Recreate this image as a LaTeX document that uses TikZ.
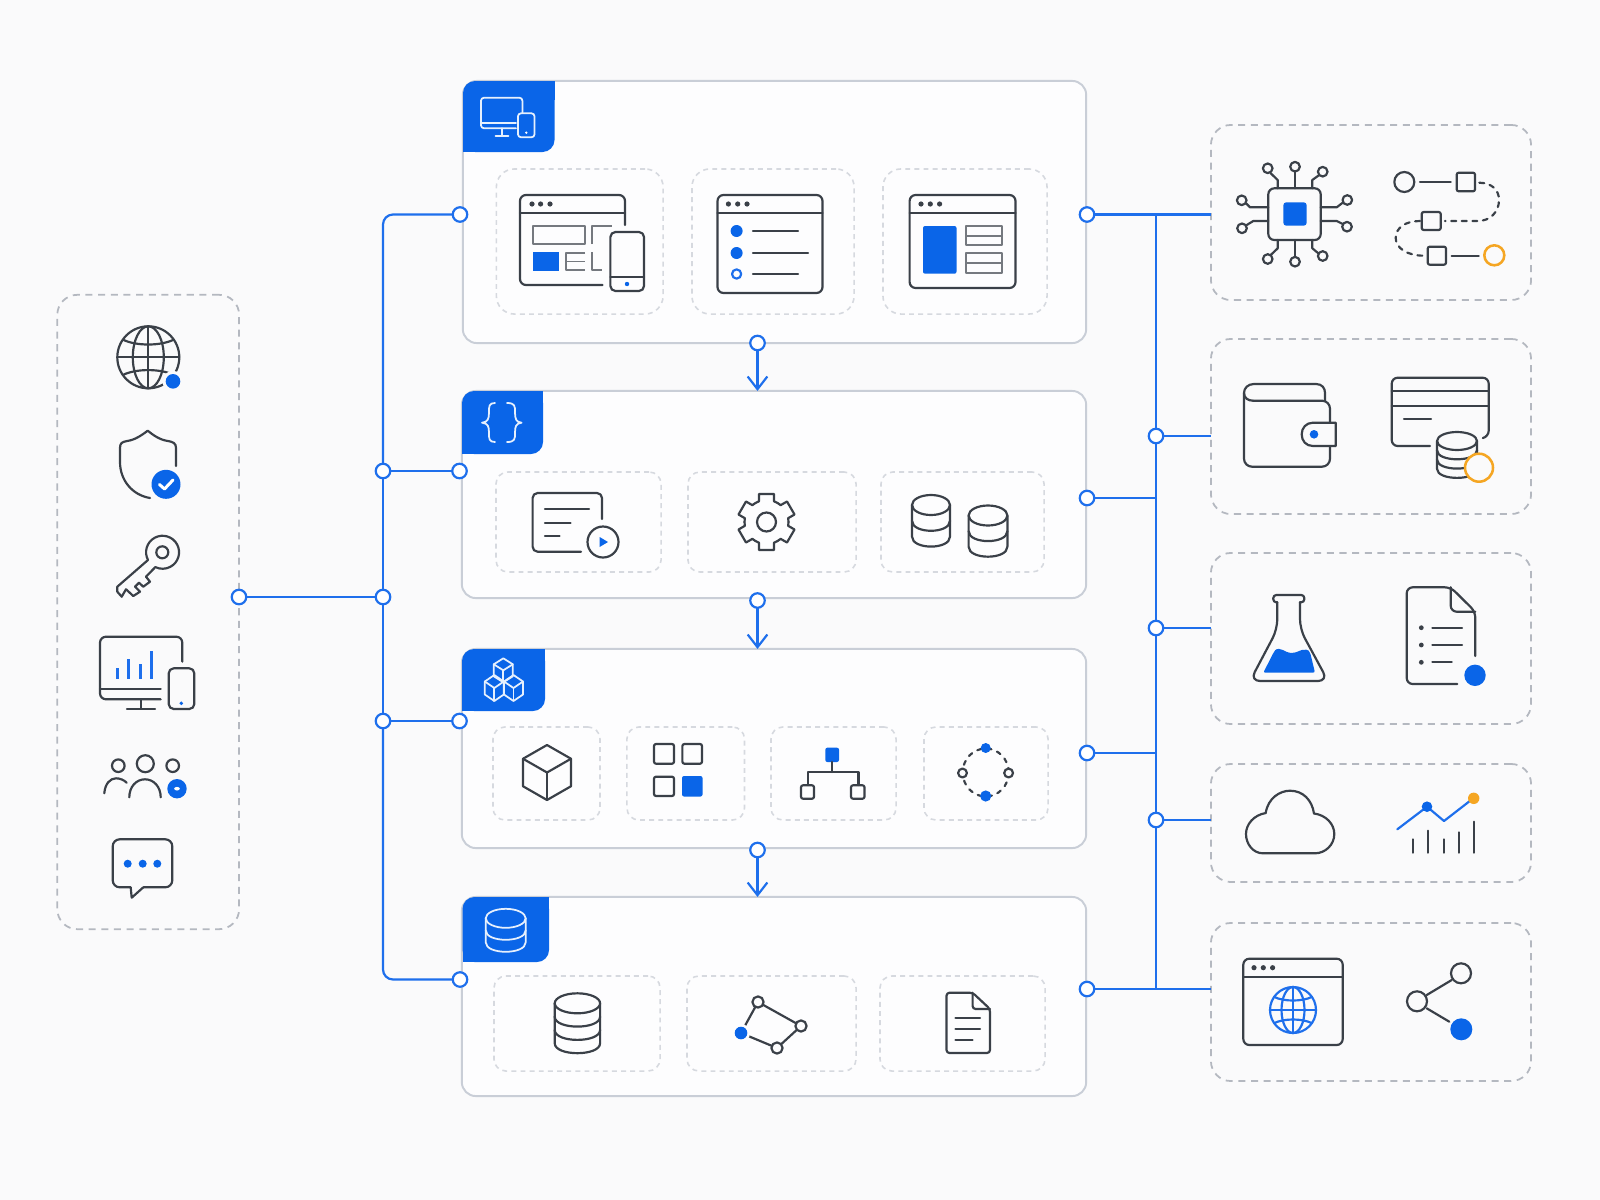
\documentclass[tikz,border=0pt]{standalone}
\usetikzlibrary{arrows.meta,calc}
\definecolor{pagefill}{HTML}{FAFAFB}
\definecolor{panelfill}{HTML}{FDFDFE}
\definecolor{panelline}{HTML}{C9CED7}
\definecolor{dashouter}{HTML}{B4B8C0}
\definecolor{dashinner}{HTML}{D6D9DF}
\definecolor{brand}{HTML}{0A65E8}
\definecolor{linkblue}{HTML}{1E6FEC}
\definecolor{ink}{HTML}{3A4048}
\definecolor{amber}{HTML}{F5A623}
\tikzset{
    panel/.style={draw=panelline, fill=panelfill, line width=0.55pt,
                  rounded corners=0.14cm, inner sep=0pt, outer sep=0pt},
    outerbox/.style={draw=dashouter, line width=0.5pt, rounded corners=0.2cm,
                     dash pattern=on 2pt off 1.6pt, inner sep=0pt, outer sep=0pt},
    innerbox/.style={draw=dashinner, line width=0.45pt, rounded corners=0.12cm,
                     dash pattern=on 1.4pt off 1.2pt, inner sep=0pt, outer sep=0pt},
    port/.style={circle, draw=linkblue, fill=white, line width=0.62pt,
                 inner sep=0pt, minimum size=0.145cm, outer sep=0pt},
    link/.style={draw=linkblue, line width=0.62pt},
    drop/.style={link, -{Straight Barb[length=3.6pt, width=5.6pt, line width=0.62pt]}},
    tabshape/.style={fill=brand, rounded corners=0.12cm},
    icon/.style={draw=ink, line width=0.62pt, line cap=round, line join=round},
    thinicon/.style={draw=ink!70, line width=0.45pt, line join=round},
    whiteicon/.style={draw=white!90!brand, line width=0.5pt, line cap=round, line join=round},
    blueicon/.style={draw=linkblue, line width=0.62pt, line cap=round, line join=round},
    spot/.style={fill=brand},
    hollow/.style={icon, fill=panelfill},
    ambericon/.style={draw=amber, line width=0.72pt},
    halo/.style={fill=pagefill},
}
\newcommand{\dbicon}[7]{%
    \draw[#1] (#2,#3) circle[x radius=#4, y radius=#5];
    \foreach \i in {1,...,#7}
        \draw[#1] ({#2-#4},{#3+(\i-1)*#6}) -- ({#2-#4},{#3+\i*#6})
            .. controls ({#2-#4},{#3+\i*#6+1.33*#5}) and ({#2+#4},{#3+\i*#6+1.33*#5})
            .. ({#2+#4},{#3+\i*#6}) -- ({#2+#4},{#3+(\i-1)*#6});
}
\newcommand{\cubeicon}[5]{%
    \draw[#1] (#2,#3) -- ({#2+#4},{#3+#5/4}) -- ({#2+#4},{#3+3*#5/4}) -- (#2,{#3+#5})
        -- ({#2-#4},{#3+3*#5/4}) -- ({#2-#4},{#3+#5/4}) -- cycle;
    \draw[#1] ({#2-#4},{#3+#5/4}) -- (#2,{#3+#5/2}) -- ({#2+#4},{#3+#5/4});
    \draw[#1] (#2,{#3+#5/2}) -- (#2,{#3+#5});
}
\newcommand{\globeicon}[4]{%
    \draw[#1] (#2,#3) circle[radius=#4];
    \draw[#1] (#2,#3) circle[x radius={0.5*#4}, y radius=#4];
    \draw[#1] (#2,{#3-#4}) -- (#2,{#3+#4});
    \draw[#1] ({#2-#4},#3) -- ({#2+#4},#3);
    \draw[#1] ({#2-0.82*#4},{#3-0.57*#4}) .. controls ({#2-0.4*#4},{#3-0.36*#4}) and ({#2+0.4*#4},{#3-0.36*#4}) .. ({#2+0.82*#4},{#3-0.57*#4});
    \draw[#1] ({#2-0.82*#4},{#3+0.57*#4}) .. controls ({#2-0.4*#4},{#3+0.36*#4}) and ({#2+0.4*#4},{#3+0.36*#4}) .. ({#2+0.82*#4},{#3+0.57*#4});
}
\newcommand{\windowicon}[5]{%
    \draw[icon, rounded corners=0.06cm] (#1,#2) rectangle (#3,#4);
    \draw[icon] (#1,{#2+18}) -- (#3,{#2+18});
    \foreach \k in {0,1,2}
        \fill[ink] ({#5+\k*9.3},{#2+9}) circle[radius=2.6];
}

\begin{document}
\begin{tikzpicture}[x=0.01cm, y=-0.01cm]
    \path[use as bounding box, fill=pagefill] (0,0) rectangle (1600,1200);

    \node[outerbox, minimum width=1.817cm, minimum height=6.34cm] (clients) at (148.2,612) {};

    \node[panel, minimum width=6.23cm, minimum height=2.62cm] (front) at (774.5,212) {};
    \node[panel, minimum width=6.24cm, minimum height=2.07cm] (logic) at (774,494.5) {};
    \node[panel, minimum width=6.24cm, minimum height=1.99cm] (parts) at (774,748.5) {};
    \node[panel, minimum width=6.24cm, minimum height=1.99cm] (store) at (774,996.5) {};

    \fill[tabshape] (463,152) -- (463,81) -- (554.5,81) -- (554.5,152) -- cycle;
    \fill[brand] (463,130) rectangle (480,152);
    \fill[brand] (530,81) rectangle (554.5,100);
    \fill[tabshape] (462,454) -- (462,391) -- (543,391) -- (543,454) -- cycle;
    \fill[brand] (462,435) rectangle (480,454);
    \fill[brand] (520,391) rectangle (543,410);
    \fill[tabshape] (462,711) -- (462,649) -- (545,649) -- (545,711) -- cycle;
    \fill[brand] (462,690) rectangle (480,711);
    \fill[brand] (520,649) rectangle (545,670);
    \fill[tabshape] (462.5,962) -- (462.5,897) -- (549,897) -- (549,962) -- cycle;
    \fill[brand] (462.5,940) rectangle (480,962);
    \fill[brand] (525,897) rectangle (549,920);

    \foreach \nm/\cx/\w in {fa/579.7/1.666, fb/773/1.62, fc/965/1.64}
        \node[innerbox, rounded corners=0.18cm, minimum width=\w cm, minimum height=1.45cm] (\nm) at (\cx,241.5) {};
    \foreach \nm/\cx/\w in {la/578.5/1.65, lb/772/1.68, lc/962.5/1.63}
        \node[innerbox, minimum width=\w cm, minimum height=1cm] (\nm) at (\cx,522) {};
    \foreach \nm/\cx/\w in {pa/546.5/1.07, pb/685.7/1.175, pc/833.5/1.25, pd/986/1.24}
        \node[innerbox, minimum width=\w cm, minimum height=0.93cm] (\nm) at (\cx,773.5) {};
    \foreach \nm/\cx/\w in {sa/577/1.66, sb/771.5/1.69, sc/962.5/1.65}
        \node[innerbox, minimum width=\w cm, minimum height=0.95cm] (\nm) at (\cx,1023.5) {};

    \node[outerbox, minimum width=3.2cm, minimum height=1.75cm] (compute) at (1371,212.5) {};
    \node[outerbox, minimum width=3.2cm, minimum height=1.75cm] (billing) at (1371,426.5) {};
    \node[outerbox, minimum width=3.2cm, minimum height=1.71cm] (testing) at (1371,638.5) {};
    \node[outerbox, minimum width=3.2cm, minimum height=1.18cm] (cloud) at (1371,823) {};
    \node[outerbox, minimum width=3.2cm, minimum height=1.58cm] (partner) at (1371,1002) {};

    \node[port] (out) at (239,597) {};
    \node[port] (ljb) at (383,471) {};
    \node[port] (ljm) at (383,597) {};
    \node[port] (ljd) at (383,721) {};
    \node[port] (wf) at (460,214.5) {};
    \node[port] (wl) at (459.5,471) {};
    \node[port] (wp) at (459.5,721) {};
    \node[port] (ws) at (460,979.5) {};
    \node[port] (ef) at (1087,214.5) {};
    \node[port] (el) at (1087,498) {};
    \node[port] (ep) at (1087,753) {};
    \node[port] (es) at (1087,989) {};
    \node[port] (rjb) at (1156,436) {};
    \node[port] (rjt) at (1156,628) {};
    \node[port] (rjc) at (1156,820) {};
    \node[port] (df) at (757.5,343) {};
    \node[port] (dl) at (757.5,600.5) {};
    \node[port] (dp) at (757.5,850) {};
    \coordinate (rtop) at (1156,214.5);
    \coordinate (rbot) at (1156,989);

    \draw[link] (out) -- (ljm);
    \draw[link, rounded corners=0.1cm] (wf) -| (ljb);
    \draw[link] (ljb) -- (ljm);
    \draw[link] (ljm) -- (ljd);
    \draw[link, rounded corners=0.1cm] (ljd) |- (ws);
    \draw[link] (ljb) -- (wl);
    \draw[link] (ljd) -- (wp);

    \draw[link] (ef) -- (ef -| compute.west);
    \draw[link] (es) -- (es -| partner.west);
    \draw[link] (rtop) -- (rjb);
    \draw[link] (rjb) -- (rjt);
    \draw[link] (rjt) -- (rjc);
    \draw[link] (rjc) -- (rbot);
    \draw[link] (el) -- (el -| rjb);
    \draw[link] (ep) -- (ep -| rjb);
    \draw[link] (rjb) -- (rjb -| billing.west);
    \draw[link] (rjt) -- (rjt -| testing.west);
    \draw[link] (rjc) -- (rjc -| cloud.west);

    \draw[drop] (df) -- (df |- logic.north);
    \draw[drop] (dl) -- (dl |- parts.north);
    \draw[drop] (dp) -- (dp |- store.north);

    \draw[whiteicon, rounded corners=0.03cm] (516,128.3) -- (481,128.3) -- (481,97.7) -- (522.4,97.7) -- (522.4,112.7);
    \draw[whiteicon] (481,122.7) -- (516,122.7);
    \draw[whiteicon] (502,128.3) -- (502,136);
    \draw[whiteicon] (495.5,136) -- (508.5,136);
    \draw[whiteicon, rounded corners=0.03cm] (518,113.3) rectangle (534.5,137.3);
    \fill[white] (526.3,132.7) circle[radius=1.3];

    \draw[whiteicon] (495,403) .. controls (489,403) and (489,406) .. (489,412) .. controls (489,419) and (488,422) .. (482,422.7)
        .. controls (488,423.5) and (489,426) .. (489,433) .. controls (489,439) and (489,442) .. (495,442);
    \draw[whiteicon] (507,403) .. controls (515,403) and (515,406) .. (515,412) .. controls (515,419) and (516,422) .. (521.6,422.7)
        .. controls (516,423.5) and (515,426) .. (515,433) .. controls (515,439) and (515,442) .. (507,442);

    \cubeicon{whiteicon}{503.3}{658.3}{9.5}{24}
    \cubeicon{whiteicon}{494.3}{675}{9.5}{26}
    \cubeicon{whiteicon}{513.5}{675}{9.5}{26}

    \dbicon{whiteicon}{505.7}{918.3}{20}{9.5}{12}{2}
    \draw[icon, rounded corners=0.06cm] (602.6,285) -- (520,285) -- (520,195) -- (625,195) -- (625,225);
    \draw[icon] (520,213) -- (625,213);
    \foreach \k in {532,540.6,550}
        \fill[ink] (\k,204) circle[radius=2.6];
    \draw[thinicon] (533,226) rectangle (585,244);
    \draw[thinicon] (592,244) -- (592,226) -- (612,226);
    \fill[spot] (533,252) rectangle (559,271);
    \draw[thinicon] (585,253) -- (566,253) -- (566,270) -- (585,270);
    \draw[thinicon] (566,261.5) -- (585,261.5);
    \draw[thinicon] (592,252) -- (592,270) -- (602,270);
    \draw[hollow, rounded corners=0.05cm] (610.4,232) rectangle (644,291);
    \draw[icon] (610.4,277) -- (644,277);
    \fill[spot] (627,284) circle[radius=2.2];

    \windowicon{717.5}{195}{822.5}{293}{728.4}
    \fill[spot] (736.6,231) circle[radius=6];
    \fill[spot] (736.6,253) circle[radius=6];
    \draw[blueicon] (736.6,274) circle[radius=4.6];
    \draw[icon] (753,231) -- (798,231);
    \draw[icon] (753,253) -- (808,253);
    \draw[icon] (753,274) -- (798,274);

    \windowicon{909.6}{195}{1015.5}{288}{921}
    \fill[spot, rounded corners=0.02cm] (923,226) rectangle (956.5,273.7);
    \draw[thinicon] (966,226) rectangle (1002,245);
    \draw[thinicon] (966,236) -- (1002,236);
    \draw[thinicon] (966,253) rectangle (1002,273);
    \draw[thinicon] (966,263) -- (1002,263);

    \draw[icon, rounded corners=0.05cm] (581,551.7) -- (532.6,551.7) -- (532.6,493) -- (602,493) -- (602,519);
    \draw[icon] (545,509) -- (589,509);
    \draw[icon] (545,523) -- (570.6,523);
    \draw[icon] (545,535.7) -- (559.6,535.7);
    \draw[icon] (603,542) circle[radius=15.5];
    \fill[spot] (599.6,537) -- (608,542) -- (599.6,547) -- cycle;

    \begin{scope}[shift={(766.5,522)}]
        \foreach \a in {90,150,...,390}
            \draw[icon] ({\a-30}:22) -- ({\a-20}:22) -- ({\a-15}:29) -- ({\a+15}:29) -- ({\a+20}:22) -- ({\a+30}:22);
        \draw[icon] (0,0) circle[radius=9.5];
    \end{scope}

    \dbicon{icon}{931}{505}{19}{10}{15.8}{2}
    \dbicon{icon}{988}{515.5}{19.4}{10}{15.6}{2}

    \cubeicon{icon}{547}{745}{24}{55}

    \draw[icon, rounded corners=0.02cm] (654,744) rectangle (674,763.7);
    \draw[icon, rounded corners=0.02cm] (682.4,744) rectangle (702,763.7);
    \draw[icon, rounded corners=0.02cm] (654,776.7) rectangle (674,796);
    \fill[spot, rounded corners=0.02cm] (682,776) rectangle (702.5,796.5);

    \fill[spot, rounded corners=0.02cm] (825.3,747.7) rectangle (839,762);
    \draw[icon] (832,762) -- (832,772);
    \draw[icon] (807.8,785) -- (807.8,772) -- (858.4,772) -- (858.4,785);
    \draw[icon, rounded corners=0.02cm] (801,785.3) rectangle (814,798.7);
    \draw[icon, rounded corners=0.02cm] (851,785.3) rectangle (864.5,798.7);

    \draw[icon, dash pattern=on 1.2pt off 1.7pt] (985.7,772.5) circle[x radius=23, y radius=24];
    \fill[spot] (985.7,748) circle[radius=5];
    \fill[spot] (985.7,796) circle[radius=5.6];
    \draw[hollow] (962.5,773) circle[radius=4.4];
    \draw[hollow] (1008.6,773) circle[radius=4.4];

    \dbicon{icon}{577.4}{1003.3}{22.7}{10}{13.3}{3}

    \draw[icon] (758,1002) -- (801,1026);
    \draw[icon] (801,1026) -- (777,1048);
    \draw[icon] (741,1033) -- (777,1048);
    \draw[icon] (741,1033) -- (758,1002);
    \draw[hollow] (758,1002) circle[radius=5.6];
    \draw[hollow] (801,1026) circle[radius=5.6];
    \draw[hollow] (777,1048) circle[radius=5.6];
    \fill[panelfill] (741,1033) circle[radius=9];
    \fill[spot] (741,1033) circle[radius=6.3];

    \draw[icon, rounded corners=0.03cm] (972.6,992.7) -- (946.5,992.7) -- (946.5,1053) -- (990,1053) -- (990,1009) -- cycle;
    \draw[icon, rounded corners=0.03cm] (972.6,992.7) -- (972.6,1009) -- (990,1009);
    \draw[icon] (955.5,1018) -- (980,1018);
    \draw[icon] (955.5,1029) -- (980,1029);
    \draw[icon] (955.5,1039.7) -- (972.6,1039.7);

    \globeicon{icon}{148.3}{357.3}{31}
    \fill[halo] (173,381.3) circle[radius=10.5];
    \fill[spot] (173,381.3) circle[radius=7.3];

    \draw[icon] (176,466) -- (176,448) .. controls (176,443) and (173,442) .. (168,441) .. controls (160,440) and (153,435) .. (147.7,430.7)
        .. controls (142,435) and (135,440) .. (127,441) .. controls (122,442) and (120,443) .. (120,448) -- (120,462)
        .. controls (120,480) and (132,495) .. (150,498);
    \fill[spot] (166,484.3) circle[radius=14.5];
    \draw[draw=white, line width=0.85pt, line cap=round, line join=round] (159.5,484.5) -- (164.5,489) -- (173,480);

    \draw[icon] (148,560) arc[start angle=152, end angle=476, radius=16.5] -- (146,576.7) -- (150,581.7) -- (143.3,586.7) -- (139,582.7)
        -- (135,586.7) -- (140,591.7) -- (133.3,596) -- (126,589.3) -- (121.7,596.7) -- (117.3,591.7) -- (117.3,586.7) -- cycle;
    \draw[icon] (162.3,552.3) circle[radius=6];

    \draw[icon, rounded corners=0.06cm] (160.7,699.3) -- (100,699.3) -- (100,636.7) -- (182.3,636.7) -- (182.3,661.7);
    \draw[icon] (100,688.7) -- (160.7,688.7);
    \draw[icon] (140.7,699.3) -- (140.7,708.7);
    \draw[icon] (127,708.7) -- (155,708.7);
    \draw[icon, rounded corners=0.05cm] (168.7,668.3) rectangle (194.3,709);
    \fill[spot] (181.3,703.3) circle[radius=1.9];
    \foreach \bx/\by in {117.7/668.3, 128.7/658.7, 140.3/664.3, 151.7/651}
        \fill[linkblue] ({\bx-1.6},\by) rectangle ({\bx+1.6},678.7);

    \draw[icon] (118.3,765.7) circle[radius=6.3];
    \draw[icon] (145.3,763.7) circle[radius=8.5];
    \draw[icon] (172.7,765.7) circle[radius=6.3];
    \draw[icon] (104.3,793.3) .. controls (105,784) and (110,778.3) .. (116,778.3) .. controls (120,778.3) and (124,780) .. (126.7,782.7);
    \draw[icon] (129.3,797.3) .. controls (129.3,787) and (136,779.3) .. (145,779.3) .. controls (154,779.3) and (160.7,787) .. (160.7,797.3);
    \fill[spot] (177,788.7) circle[radius=9.7];
    \fill[white] (177,788.7) circle[x radius=2.8, y radius=1.8];

    \draw[icon, rounded corners=0.07cm] (143.3,887.3) -- (172.3,887.3) -- (172.3,839.3) -- (112.7,839.3) -- (112.7,887.3) -- (130.7,887.3);
    \draw[icon] (130.7,887.3) -- (131.7,897.7) -- (143.3,887.3);
    \foreach \k in {127.7,142.7,157.3}
        \fill[spot] (\k,863.7) circle[radius=4];

    \draw[icon, rounded corners=0.06cm] (1268.3,188.3) rectangle (1320.7,240);
    \fill[spot, rounded corners=0.03cm] (1283.3,202.3) rectangle (1306.7,225.7);
    \draw[icon] (1295,188.3) -- (1295,171.7);
    \draw[icon] (1277.7,188.3) -- (1277.7,180) -- (1270.7,173.3);
    \draw[icon] (1312.3,188.3) -- (1312.3,180) -- (1319.3,175);
    \draw[icon] (1268.3,207.3) -- (1250,207.3) -- (1246,203.3);
    \draw[icon] (1268.3,221) -- (1253.3,221) -- (1246.7,225);
    \draw[icon] (1320.7,207.3) -- (1336.7,207.3) -- (1342.7,202.7);
    \draw[icon] (1320.7,221) -- (1336.7,221) -- (1342.7,224);
    \draw[icon] (1277.7,240) -- (1277.7,248.3) -- (1270.7,255);
    \draw[icon] (1295,240) -- (1295,256.7);
    \draw[icon] (1312.3,240) -- (1312.3,248.3) -- (1318.3,253.3);
    \foreach \cx/\cy in {1295/166.7, 1267.7/168.3, 1322.7/171.7, 1241.7/200.3, 1242/228.3, 1347.3/200, 1347/226.7, 1267.7/259, 1295/261.7, 1322.7/256}
        \draw[icon] (\cx,\cy) circle[radius=4.8];

    \draw[icon] (1404.3,182) circle[radius=10];
    \draw[icon] (1420,182) -- (1450.7,182);
    \draw[icon, rounded corners=0.02cm] (1456.7,172.7) rectangle (1475,191.3);
    \draw[icon, dash pattern=on 1.4pt off 1.6pt] (1479.3,182.7) .. controls (1492,183) and (1499,190) .. (1499,200)
        .. controls (1499,212) and (1490,221) .. (1478,221) -- (1445,221);
    \draw[icon, rounded corners=0.02cm] (1421.7,212) rectangle (1440.7,230);
    \draw[icon, dash pattern=on 1.4pt off 1.6pt] (1420,221) .. controls (1405,221) and (1395.7,228) .. (1395.7,238)
        .. controls (1395.7,248) and (1407,255.7) .. (1424,255.7);
    \draw[icon, rounded corners=0.02cm] (1427.7,246.7) rectangle (1446,264.7);
    \draw[icon] (1451.7,255.7) -- (1478.7,255.7);
    \draw[ambericon] (1494.3,255.3) circle[radius=10];

    \draw[icon, rounded corners=0.08cm] (1330,422.7) -- (1330,400.7) -- (1253,400.7);
    \draw[icon, rounded corners=0.08cm] (1330,446) -- (1330,466.7) -- (1244,466.7) -- (1244,393);
    \draw[icon] (1253,400.7) .. controls (1248,400.7) and (1244,398) .. (1244,393) .. controls (1244,388) and (1248,384) .. (1254,384)
        -- (1316,384) .. controls (1322,384) and (1325,388) .. (1325,393) -- (1325,400.7);
    \draw[icon, fill=pagefill] (1335.7,446) -- (1313,446) .. controls (1306,446) and (1301.7,441) .. (1301.7,434.3)
        .. controls (1301.7,428) and (1306,422.7) .. (1313,422.7) -- (1335.7,422.7) -- cycle;
    \fill[spot] (1314,434.3) circle[radius=4.3];

    \draw[icon, rounded corners=0.06cm] (1430,446) -- (1391.7,446) -- (1391.7,377.7) -- (1488.7,377.7) -- (1488.7,436.7) -- (1483,438);
    \draw[icon] (1391.7,390.7) -- (1488.7,390.7);
    \draw[icon] (1391.7,405.7) -- (1488.7,405.7);
    \draw[icon] (1404,419.3) -- (1431,419.3);
    \dbicon{icon}{1457}{441}{20}{9}{9.3}{3}
    \draw[ambericon, fill=pagefill] (1479,467.7) circle[radius=14];

    \draw[icon, rounded corners=0.03cm] (1277.3,602.3) -- (1273.3,602.3) -- (1273.3,595) -- (1304.3,595) -- (1304.3,602.3) -- (1300,602.3);
    \draw[icon, rounded corners=0.1cm] (1277.3,602.3) -- (1277.3,629.3) -- (1250,681) -- (1328,681) -- (1300,629.3) -- (1300,602.3);
    \fill[spot, rounded corners=0.02cm] (1263.3,672.7) -- (1274,651.7) .. controls (1277,648) and (1281,649) .. (1285,651)
        .. controls (1290,653.5) and (1295,653) .. (1300,650.5) .. controls (1305,649) and (1308,650) .. (1310,652) -- (1315,672.7) -- cycle;

    \draw[icon, rounded corners=0.06cm] (1457.3,684) -- (1406.7,684) -- (1406.7,587.3) -- (1450.7,587.3) -- (1475.3,611.7) -- (1475.3,656);
    \draw[icon, rounded corners=0.06cm] (1450.7,587.3) -- (1450.7,611.7) -- (1475.3,611.7);
    \foreach \k in {627.7,645,662.3}
        \fill[ink] (1421.3,\k) circle[radius=2.4];
    \draw[icon] (1432.3,627.7) -- (1462,627.7);
    \draw[icon] (1432.3,645) -- (1462,645);
    \draw[icon] (1432.3,662.3) -- (1451.7,662.3);
    \fill[spot] (1475,675.3) circle[radius=10.7];

    \draw[icon] (1263,853.3) -- (1315,853.3) .. controls (1325,853.3) and (1334.3,845) .. (1334.3,834) .. controls (1334.3,824) and (1326,815) .. (1314,813.5)
        .. controls (1312,800) and (1303,790.7) .. (1290,790.7) .. controls (1280,790.7) and (1268,798) .. (1265.7,813)
        .. controls (1254,815) and (1246,824) .. (1246,834) .. controls (1246,844) and (1253,853.3) .. (1263,853.3);

    \draw[blueicon] (1397.3,829.3) -- (1427,806.7) -- (1444,821) -- (1473.3,798.3);
    \fill[spot] (1427,806.7) circle[radius=5.3];
    \fill[amber] (1473.7,798.3) circle[radius=5.7];
    \foreach \bx/\by in {1413/839.3, 1428.3/830.7, 1443.7/839.3, 1459/832.3, 1474.3/821.7}
        \draw[icon] (\bx,\by) -- (\bx,852.7);

    \windowicon{1243.3}{958.7}{1342.7}{1045}{1254}
    \globeicon{blueicon}{1293}{1010}{23}

    \draw[icon] (1426.7,995) -- (1451.7,980);
    \draw[icon] (1426.7,1008.3) -- (1449.3,1021.7);
    \draw[icon] (1461,973.3) circle[radius=10];
    \draw[icon] (1417,1001.3) circle[radius=10];
    \fill[spot] (1461.3,1029.3) circle[radius=11];
\end{tikzpicture}
\end{document}
